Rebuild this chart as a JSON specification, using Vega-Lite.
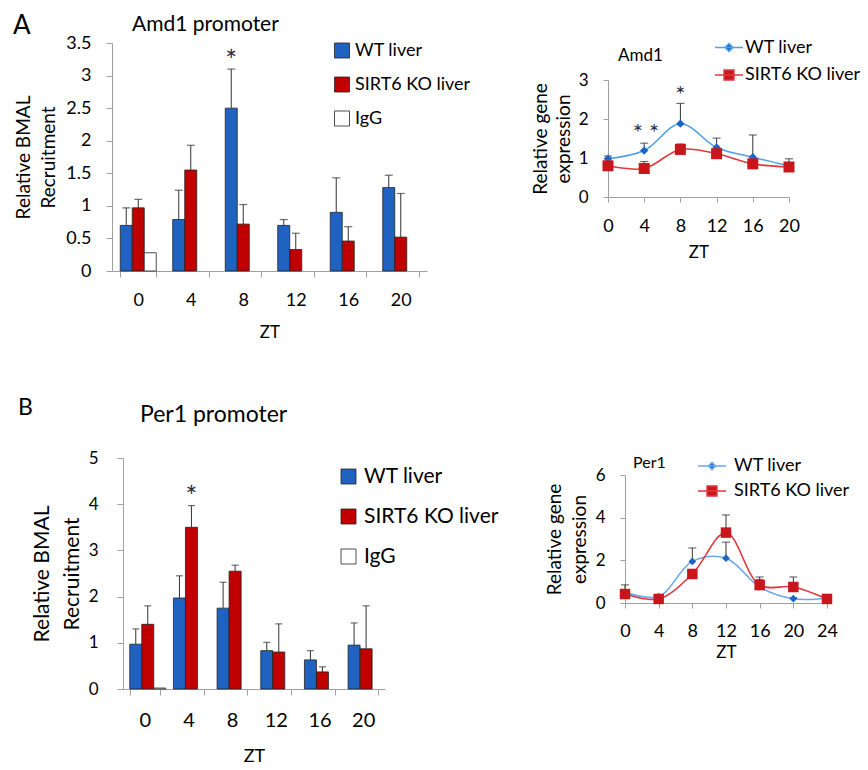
{
  "$schema": "https://vega.github.io/schema/vega-lite/v6.json",
  "padding": {"left": 13, "top": 12, "right": 0, "bottom": 0},
  "config": {
    "font": "Lato",
    "view": {"stroke": null},
    "axis": {"grid": false, "labelOverlap": false, "domainColor": "#a0a0a0", "tickColor": "#a0a0a0", "labelColor": "#000000", "titleColor": "#000000", "titleFontWeight": "normal", "labelFont": "Lato", "titleFont": "Lato", "domainWidth": 1, "tickWidth": 1},
    "title": {"fontWeight": "normal", "color": "#000000", "font": "Lato"},
    "legend": {"labelColor": "#000000", "labelFont": "Lato", "padding": 0},
    "text": {"font": "Lato"}
  },
  "datasets": {
    "barA": [
      {"zt": "0", "grp": "WT liver", "val": 0.70, "err": 0.97},
      {"zt": "0", "grp": "SIRT6 KO liver", "val": 0.97, "err": 1.10},
      {"zt": "0", "grp": "IgG", "val": 0.28},
      {"zt": "4", "grp": "WT liver", "val": 0.79, "err": 1.24},
      {"zt": "4", "grp": "SIRT6 KO liver", "val": 1.55, "err": 1.93},
      {"zt": "8", "grp": "WT liver", "val": 2.50, "err": 3.10},
      {"zt": "8", "grp": "SIRT6 KO liver", "val": 0.72, "err": 1.02},
      {"zt": "12", "grp": "WT liver", "val": 0.70, "err": 0.79},
      {"zt": "12", "grp": "SIRT6 KO liver", "val": 0.33, "err": 0.58},
      {"zt": "16", "grp": "WT liver", "val": 0.90, "err": 1.43},
      {"zt": "16", "grp": "SIRT6 KO liver", "val": 0.46, "err": 0.68},
      {"zt": "20", "grp": "WT liver", "val": 1.28, "err": 1.47},
      {"zt": "20", "grp": "SIRT6 KO liver", "val": 0.52, "err": 1.19}
    ],
    "starsA": [
      {"zt": "8", "grp": "WT liver", "y": 3.29, "t": "*"}
    ],
    "barB": [
      {"zt": "0", "grp": "WT liver", "val": 0.97, "err": 1.30},
      {"zt": "0", "grp": "SIRT6 KO liver", "val": 1.40, "err": 1.80},
      {"zt": "0", "grp": "IgG", "val": 0.02},
      {"zt": "4", "grp": "WT liver", "val": 1.97, "err": 2.45},
      {"zt": "4", "grp": "SIRT6 KO liver", "val": 3.50, "err": 3.97},
      {"zt": "8", "grp": "WT liver", "val": 1.75, "err": 2.31},
      {"zt": "8", "grp": "SIRT6 KO liver", "val": 2.55, "err": 2.68},
      {"zt": "12", "grp": "WT liver", "val": 0.83, "err": 1.01},
      {"zt": "12", "grp": "SIRT6 KO liver", "val": 0.80, "err": 1.41},
      {"zt": "16", "grp": "WT liver", "val": 0.63, "err": 0.83},
      {"zt": "16", "grp": "SIRT6 KO liver", "val": 0.37, "err": 0.48},
      {"zt": "20", "grp": "WT liver", "val": 0.95, "err": 1.43},
      {"zt": "20", "grp": "SIRT6 KO liver", "val": 0.87, "err": 1.80}
    ],
    "starsB": [
      {"zt": "4", "grp": "SIRT6 KO liver", "y": 4.24, "t": "*"}
    ],
    "lineA": [
      {"zt": 0, "grp": "WT liver", "val": 0.98, "err": 1.05},
      {"zt": 4, "grp": "WT liver", "val": 1.19, "err": 1.38},
      {"zt": 8, "grp": "WT liver", "val": 1.88, "err": 2.40},
      {"zt": 12, "grp": "WT liver", "val": 1.27, "err": 1.51},
      {"zt": 16, "grp": "WT liver", "val": 1.02, "err": 1.59},
      {"zt": 20, "grp": "WT liver", "val": 0.80, "err": 0.98},
      {"zt": 0, "grp": "SIRT6 KO liver", "val": 0.80, "err": 0.86},
      {"zt": 4, "grp": "SIRT6 KO liver", "val": 0.73, "err": 0.91},
      {"zt": 8, "grp": "SIRT6 KO liver", "val": 1.22, "err": 1.36},
      {"zt": 12, "grp": "SIRT6 KO liver", "val": 1.11, "err": 1.20},
      {"zt": 16, "grp": "SIRT6 KO liver", "val": 0.85, "err": 0.92},
      {"zt": 20, "grp": "SIRT6 KO liver", "val": 0.77, "err": 0.82}
    ],
    "starsLA": [
      {"zt": 4.2, "y": 1.75, "t": "* *"},
      {"zt": 8, "y": 2.73, "t": "*"}
    ],
    "lineB": [
      {"zt": 0, "grp": "WT liver", "val": 0.50, "err": 0.85},
      {"zt": 4, "grp": "WT liver", "val": 0.30, "err": 0.35},
      {"zt": 8, "grp": "WT liver", "val": 1.95, "err": 2.58},
      {"zt": 12, "grp": "WT liver", "val": 2.10, "err": 2.85},
      {"zt": 16, "grp": "WT liver", "val": 0.75, "err": 1.10},
      {"zt": 20, "grp": "WT liver", "val": 0.20, "err": 0.25},
      {"zt": 24, "grp": "WT liver", "val": 0.22, "err": 0.25},
      {"zt": 0, "grp": "SIRT6 KO liver", "val": 0.42, "err": 0.55},
      {"zt": 4, "grp": "SIRT6 KO liver", "val": 0.19, "err": 0.25},
      {"zt": 8, "grp": "SIRT6 KO liver", "val": 1.36, "err": 1.55},
      {"zt": 12, "grp": "SIRT6 KO liver", "val": 3.30, "err": 4.13},
      {"zt": 16, "grp": "SIRT6 KO liver", "val": 0.84, "err": 1.22},
      {"zt": 20, "grp": "SIRT6 KO liver", "val": 0.75, "err": 1.22},
      {"zt": 24, "grp": "SIRT6 KO liver", "val": 0.19, "err": 0.25}
    ]
  },
  "spacing": 57,
  "resolve": {"scale": {"color": "independent", "fill": "independent", "shape": "independent"}, "legend": {"color": "independent"}},
  "vconcat": [
    {
      "title": {"text": "A", "anchor": "start", "frame": "group", "orient": "top", "offset": -45.5, "dx": -99, "baseline": "alphabetic", "fontSize": 26},
      "spacing": 60,
      "resolve": {"scale": {"color": "independent", "fill": "independent", "shape": "independent"}, "legend": {"color": "independent"}},
      "hconcat": [
        {
          "width": 315, "height": 228,
          "title": {"text": "Amd1 promoter", "anchor": "start", "frame": "group", "orient": "top", "offset": -18, "dx": 20, "baseline": "alphabetic", "fontSize": 21},
          "data": {"name": "barA"},
          "layer": [
            {
              "mark": {"type": "bar", "stroke": "#222222", "strokeWidth": 0.8},
              "encoding": {
                "x": {"field": "zt", "type": "nominal", "scale": {"domain": ["0", "4", "8", "12", "16", "20"], "paddingInner": 0.314, "paddingOuter": 0.157},
                      "axis": {"title": "ZT", "labelAngle": 0, "labelOverlap": false, "tickBand": "extent", "tickSize": 6, "labelPadding": 14, "labelFontSize": 18, "titleFontSize": 17, "titlePadding": 15}},
                "xOffset": {"field": "grp", "type": "nominal", "scale": {"domain": ["WT liver", "SIRT6 KO liver", "IgG"], "paddingInner": 0, "paddingOuter": 0}},
                "y": {"field": "val", "type": "quantitative", "scale": {"domain": [0, 3.5], "nice": false},
                      "axis": {"values": [0, 0.5, 1, 1.5, 2, 2.5, 3, 3.5], "tickCount": 20, "format": "~g", "labelOverlap": false, "tickSize": 6, "labelPadding": 15, "labelFontSize": 18, "title": ["Relative  BMAL", "Recruitment"], "titleFontSize": 19, "titleLineHeight": 25, "titlePadding": 7}},
                "color": {"field": "grp", "type": "nominal", "scale": {"domain": ["WT liver", "SIRT6 KO liver", "IgG"], "range": ["#1f62c0", "#c00000", "#ffffff"]},
                          "legend": {"orient": "none", "legendX": 221, "legendY": -1.5, "title": null, "symbolType": "square", "symbolSize": 225, "symbolStrokeColor": "#222222", "symbolStrokeWidth": 0.8, "labelFontSize": 18, "labelOffset": 4, "rowPadding": 14,
                                     "encode": {"symbols": {"update": {"stroke": {"value": "#222222"}, "strokeWidth": {"value": 0.8}}}}}}
              }
            },
            {
              "transform": [{"filter": "datum.err != null"}],
              "mark": {"type": "rule", "color": "#333333", "strokeWidth": 1},
              "encoding": {
                "x": {"field": "zt", "type": "nominal"},
                "xOffset": {"field": "grp", "type": "nominal"},
                "y": {"field": "val", "type": "quantitative"},
                "y2": {"field": "err"}
              }
            },
            {
              "transform": [{"filter": "datum.err != null"}],
              "mark": {"type": "tick", "orient": "horizontal", "size": 8, "thickness": 1.2, "color": "#333333"},
              "encoding": {
                "x": {"field": "zt", "type": "nominal"},
                "xOffset": {"field": "grp", "type": "nominal"},
                "y": {"field": "err", "type": "quantitative"}
              }
            },
            {
              "data": {"name": "starsA"},
              "mark": {"type": "text", "fontSize": 28, "baseline": "middle", "dy": 6, "color": "#2b2b45"},
              "encoding": {
                "x": {"field": "zt", "type": "nominal"},
                "xOffset": {"field": "grp", "type": "nominal"},
                "y": {"field": "y", "type": "quantitative"},
                "text": {"field": "t"}
              }
            }
          ]
        },
        {
          "width": 181, "height": 154,
          "title": {"text": "Amd1", "anchor": "start", "frame": "group", "orient": "top", "offset": -39, "dx": 10, "baseline": "alphabetic", "fontSize": 17},
          "data": {"name": "lineA"},
          "layer": [
            {
              "mark": {"type": "rule", "color": "#333333", "strokeWidth": 1},
              "encoding": {
                "x": {"field": "zt", "type": "quantitative", "scale": {"domain": [0, 20], "nice": false, "zero": false},
                      "axis": {"values": [0, 4, 8, 12, 16, 20], "tickCount": 20, "format": "~g", "title": "ZT", "labelOverlap": false, "labelFlush": false, "tickSize": 5, "labelPadding": 15, "labelFontSize": 18, "titleFontSize": 17, "titlePadding": 9}},
                "y": {"field": "val", "type": "quantitative", "scale": {"domain": [0, 3], "nice": false, "range": [154, 37]},
                      "axis": {"values": [0, 1, 2, 3], "tickCount": 20, "format": "~g", "title": ["Relative  gene", "expression"], "labelOverlap": false, "tickSize": 5, "labelPadding": 15, "labelFontSize": 17, "titleFontSize": 19, "titleLineHeight": 23, "titlePadding": 5}},
                "y2": {"field": "err"}
              }
            },
            {
              "mark": {"type": "tick", "orient": "horizontal", "size": 8, "thickness": 1.2, "color": "#333333"},
              "encoding": {
                "x": {"field": "zt", "type": "quantitative"},
                "y": {"field": "err", "type": "quantitative"}
              }
            },
            {
              "mark": {"type": "line", "strokeWidth": 1.6, "interpolate": "catmull-rom"},
              "encoding": {
                "x": {"field": "zt", "type": "quantitative"},
                "y": {"field": "val", "type": "quantitative"},
                "color": {"field": "grp", "type": "nominal", "scale": {"domain": ["WT liver", "SIRT6 KO liver"], "range": ["#4ea1e8", "#e0393e"]},
                          "legend": {"orient": "none", "legendX": 112, "legendY": -4.5, "title": null, "symbolSize": 256, "labelFontSize": 18, "labelOffset": 7, "rowPadding": 9.5,
                                     "encode": {"symbols": {"update": {
                                       "shape": {"signal": "datum.value === 'WT liver' ? 'M-1.75,0H1.75M0,-0.5L0.5,0L0,0.5L-0.5,0Z' : 'M-1.75,0H1.75M-0.62,-0.62H0.62V0.62H-0.62Z'"},
                                       "fill": {"signal": "datum.value === 'WT liver' ? '#1c65c4' : '#c8161d'"},
                                       "stroke": {"signal": "datum.value === 'WT liver' ? '#4ea1e8' : '#e0393e'"},
                                       "strokeWidth": {"value": 1.5},
                                       "opacity": {"value": 1},
                                       "fillOpacity": {"value": 1}}}}}}
              }
            },
            {
              "transform": [{"filter": "datum.grp === 'WT liver'"}],
              "mark": {"type": "point", "shape": "diamond", "filled": true, "size": 70, "color": "#1c65c4", "opacity": 1},
              "encoding": {
                "x": {"field": "zt", "type": "quantitative"},
                "y": {"field": "val", "type": "quantitative"}
              }
            },
            {
              "transform": [{"filter": "datum.grp === 'SIRT6 KO liver'"}],
              "mark": {"type": "point", "shape": "square", "filled": true, "size": 121, "color": "#c8161d", "opacity": 1},
              "encoding": {
                "x": {"field": "zt", "type": "quantitative"},
                "y": {"field": "val", "type": "quantitative"}
              }
            },
            {
              "data": {"name": "starsLA"},
              "mark": {"type": "text", "fontSize": 24, "baseline": "middle", "dy": 5, "color": "#2b2b45"},
              "encoding": {
                "x": {"field": "zt", "type": "quantitative"},
                "y": {"field": "y", "type": "quantitative"},
                "text": {"field": "t"}
              }
            }
          ]
        }
      ]
    },
    {
      "title": {"text": "B", "anchor": "start", "frame": "group", "orient": "top", "offset": -34, "dx": -94, "baseline": "alphabetic", "fontSize": 23},
      "spacing": 46,
      "resolve": {"scale": {"color": "independent", "fill": "independent", "shape": "independent"}, "legend": {"color": "independent"}},
      "hconcat": [
        {
          "width": 273, "height": 231,
          "title": {"text": "Per1 promoter", "anchor": "start", "frame": "group", "orient": "top", "offset": 4, "dx": 28, "baseline": "alphabetic", "fontSize": 23},
          "data": {"name": "barB"},
          "layer": [
            {
              "mark": {"type": "bar", "stroke": "#222222", "strokeWidth": 0.8},
              "encoding": {
                "x": {"field": "zt", "type": "nominal", "scale": {"domain": ["0", "4", "8", "12", "16", "20"], "range": [11, 273], "paddingInner": 0.31, "paddingOuter": 0.155},
                      "axis": {"title": "ZT", "labelAngle": 0, "labelOverlap": false, "tickBand": "extent", "tickSize": 6, "labelPadding": 15, "labelFontSize": 20, "titleFontSize": 18, "titlePadding": 17}},
                "xOffset": {"field": "grp", "type": "nominal", "scale": {"domain": ["WT liver", "SIRT6 KO liver", "IgG"], "paddingInner": 0, "paddingOuter": 0}},
                "y": {"field": "val", "type": "quantitative", "scale": {"domain": [0, 5], "nice": false},
                      "axis": {"values": [0, 1, 2, 3, 4, 5], "tickCount": 20, "format": "~g", "labelOverlap": false, "offset": -11, "tickSize": 6, "labelPadding": 19, "labelFontSize": 17, "title": ["Relative  BMAL", "Recruitment"], "titleFontSize": 21, "titleLineHeight": 30, "titlePadding": 6}},
                "color": {"field": "grp", "type": "nominal", "scale": {"domain": ["WT liver", "SIRT6 KO liver", "IgG"], "range": ["#1f62c0", "#c00000", "#ffffff"]},
                          "legend": {"orient": "none", "legendX": 226, "legendY": 8, "title": null, "symbolType": "square", "symbolSize": 225, "symbolStrokeColor": "#222222", "symbolStrokeWidth": 0.8, "labelFontSize": 21, "labelOffset": 5, "rowPadding": 18,
                                     "encode": {"symbols": {"update": {"stroke": {"value": "#222222"}, "strokeWidth": {"value": 0.8}}}}}}
              }
            },
            {
              "transform": [{"filter": "datum.err != null"}],
              "mark": {"type": "rule", "color": "#333333", "strokeWidth": 1},
              "encoding": {
                "x": {"field": "zt", "type": "nominal"},
                "xOffset": {"field": "grp", "type": "nominal"},
                "y": {"field": "val", "type": "quantitative"},
                "y2": {"field": "err"}
              }
            },
            {
              "transform": [{"filter": "datum.err != null"}],
              "mark": {"type": "tick", "orient": "horizontal", "size": 7, "thickness": 1.2, "color": "#333333"},
              "encoding": {
                "x": {"field": "zt", "type": "nominal"},
                "xOffset": {"field": "grp", "type": "nominal"},
                "y": {"field": "err", "type": "quantitative"}
              }
            },
            {
              "data": {"name": "starsB"},
              "mark": {"type": "text", "fontSize": 28, "baseline": "middle", "dy": 6, "color": "#2b2b45"},
              "encoding": {
                "x": {"field": "zt", "type": "nominal"},
                "xOffset": {"field": "grp", "type": "nominal"},
                "y": {"field": "y", "type": "quantitative"},
                "text": {"field": "t"}
              }
            }
          ]
        },
        {
          "width": 202, "height": 145,
          "title": {"text": "Per1", "anchor": "start", "frame": "group", "orient": "top", "offset": -27, "dx": 8, "baseline": "alphabetic", "fontSize": 16},
          "data": {"name": "lineB"},
          "layer": [
            {
              "mark": {"type": "rule", "color": "#333333", "strokeWidth": 1},
              "encoding": {
                "x": {"field": "zt", "type": "quantitative", "scale": {"domain": [0, 24], "nice": false, "zero": false},
                      "axis": {"values": [0, 4, 8, 12, 16, 20, 24], "tickCount": 20, "format": "~g", "title": "ZT", "labelOverlap": false, "labelFlush": false, "tickSize": 5, "labelPadding": 14, "labelFontSize": 18, "titleFontSize": 17, "titlePadding": 4}},
                "y": {"field": "val", "type": "quantitative", "scale": {"domain": [0, 6], "nice": false, "range": [145, 17]},
                      "axis": {"values": [0, 2, 4, 6], "tickCount": 20, "format": "~g", "title": ["Relative  gene", "expression"], "labelOverlap": false, "tickSize": 5, "labelPadding": 15, "labelFontSize": 17, "titleFontSize": 19, "titleLineHeight": 25, "titlePadding": 6}},
                "y2": {"field": "err"}
              }
            },
            {
              "mark": {"type": "tick", "orient": "horizontal", "size": 8, "thickness": 1.2, "color": "#333333"},
              "encoding": {
                "x": {"field": "zt", "type": "quantitative"},
                "y": {"field": "err", "type": "quantitative"}
              }
            },
            {
              "mark": {"type": "line", "strokeWidth": 1.6, "interpolate": "catmull-rom"},
              "encoding": {
                "x": {"field": "zt", "type": "quantitative"},
                "y": {"field": "val", "type": "quantitative"},
                "color": {"field": "grp", "type": "nominal", "scale": {"domain": ["WT liver", "SIRT6 KO liver"], "range": ["#6aa8ee", "#e0393e"]},
                          "legend": {"orient": "none", "legendX": 78, "legendY": -1, "title": null, "symbolSize": 256, "labelFontSize": 18, "labelOffset": 13, "rowPadding": 7,
                                     "encode": {"symbols": {"update": {
                                       "shape": {"signal": "datum.value === 'WT liver' ? 'M-1.75,0H1.75M0,-0.45L0.45,0L0,0.45L-0.45,0Z' : 'M-1.75,0H1.75M-0.62,-0.62H0.62V0.62H-0.62Z'"},
                                       "fill": {"signal": "datum.value === 'WT liver' ? '#1c65c4' : '#c8161d'"},
                                       "stroke": {"signal": "datum.value === 'WT liver' ? '#6aa8ee' : '#e0393e'"},
                                       "strokeWidth": {"value": 1.5},
                                       "opacity": {"value": 1},
                                       "fillOpacity": {"value": 1}}}}}}
              }
            },
            {
              "transform": [{"filter": "datum.grp === 'WT liver'"}],
              "mark": {"type": "point", "shape": "diamond", "filled": true, "size": 60, "color": "#1c65c4", "opacity": 1},
              "encoding": {
                "x": {"field": "zt", "type": "quantitative"},
                "y": {"field": "val", "type": "quantitative"}
              }
            },
            {
              "transform": [{"filter": "datum.grp === 'SIRT6 KO liver'"}],
              "mark": {"type": "point", "shape": "square", "filled": true, "size": 110, "color": "#c8161d", "opacity": 1},
              "encoding": {
                "x": {"field": "zt", "type": "quantitative"},
                "y": {"field": "val", "type": "quantitative"}
              }
            }
          ]
        }
      ]
    }
  ]
}
